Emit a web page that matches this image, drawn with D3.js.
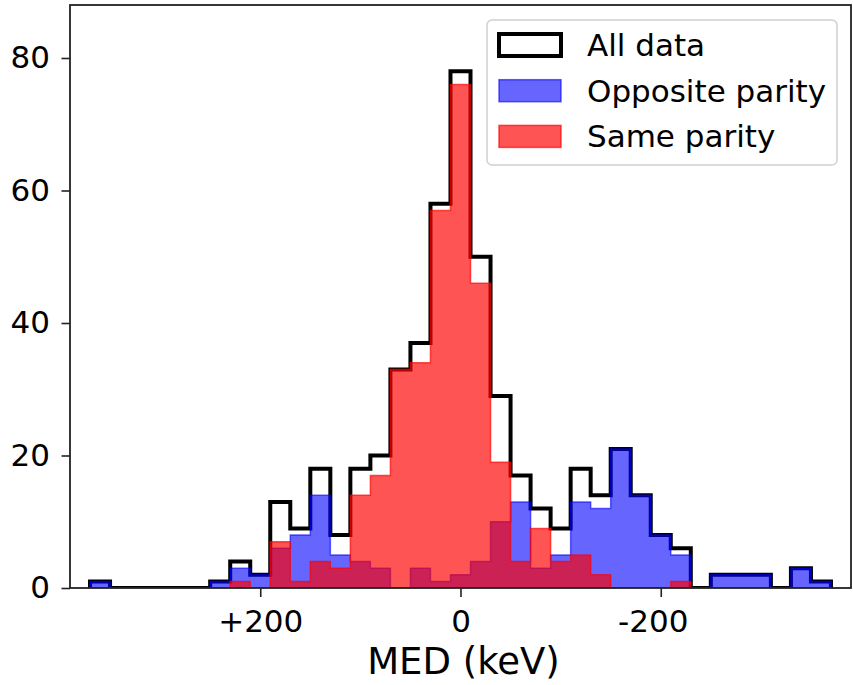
<!DOCTYPE html>
<html>
<head>
<meta charset="utf-8">
<script src="https://cdn.jsdelivr.net/npm/d3@7"></script>
<style>
  body { margin: 0; background: #fff; }
  text { font-family: "DejaVu Sans", sans-serif; }
</style>
</head>
<body>
<div id="chart"></div>
<script>
// bin centres in keV (bins are 20 keV wide)
const binCenters = [360, 340, 320, 300, 280, 260, 240, 220, 200, 180, 160, 140, 120, 100, 80, 60, 40, 20, 0,
  -20, -40, -60, -80, -100, -120, -140, -160, -180, -200, -220, -240, -260, -280, -300, -320, -340, -360];
const allCounts = [1, 0, 0, 0, 0, 0, 1, 4, 2, 13, 9, 18, 8, 18, 20, 33, 37, 58, 78,
  50, 29, 17, 12, 9, 18, 14, 21, 14, 8, 6, 0, 2, 2, 2, 0, 3, 1];
const oppositeCounts = [1, 0, 0, 0, 0, 0, 1, 3, 2, 6, 8, 14, 5, 4, 3, 0, 3, 1, 2,
  4, 10, 13, 3, 5, 13, 12, 21, 14, 8, 5, 0, 2, 2, 2, 0, 3, 1];
const sameCounts = [0, 0, 0, 0, 0, 0, 0, 1, 0, 7, 1, 4, 3, 14, 17, 33, 34, 57, 76,
  46, 19, 4, 9, 4, 5, 2, 0, 0, 0, 1, 0, 0, 0, 0, 0, 0, 0];
const binWidth = 20;

const xTicks = [200, 0, -200];
const xTickLabels = ["+200", "0", "-200"];
const yTicks = [0, 20, 40, 60, 80];

const legendItems = [
  { label: "All data", fill: "#fff", fillOpacity: 1, stroke: "#000", strokeOpacity: 1, sw: 4 },
  { label: "Opposite parity", fill: "blue", fillOpacity: 0.6, stroke: "blue", strokeOpacity: 0.6, sw: 1.5 },
  { label: "Same parity", fill: "red", fillOpacity: 0.67, stroke: "red", strokeOpacity: 0.67, sw: 1.5 }
];

const W = 853, H = 685;
const plot = { left: 70, right: 851, top: 5, bottom: 588 };

const svg = d3.select("#chart").append("svg")
  .attr("width", W).attr("height", H);

svg.append("rect").attr("width", W).attr("height", H).attr("fill", "#fff");

const x = d3.scaleLinear().domain([390, -390]).range([plot.left, plot.right]);
const y = d3.scaleLinear().domain([0, 88]).range([plot.bottom, plot.top]);

svg.append("clipPath").attr("id", "clip")
  .append("rect")
  .attr("x", plot.left).attr("y", plot.top)
  .attr("width", plot.right - plot.left).attr("height", plot.bottom - plot.top);

// step outline of a histogram
function stepPath(counts) {
  const pts = [[binCenters[0] + binWidth / 2, 0]];
  counts.forEach((c, i) => {
    pts.push([binCenters[i] + binWidth / 2, c]);
    pts.push([binCenters[i] - binWidth / 2, c]);
  });
  pts.push([binCenters[binCenters.length - 1] - binWidth / 2, 0]);
  return d3.line().x(d => x(d[0])).y(d => y(d[1]))(pts);
}

const g = svg.append("g").attr("clip-path", "url(#clip)");

// all data (step)
g.append("path")
  .attr("d", stepPath(allCounts))
  .attr("fill", "none")
  .attr("stroke", "#000")
  .attr("stroke-width", 4)
  .attr("stroke-linejoin", "miter");

// opposite parity (stepfilled)
g.append("path")
  .attr("d", stepPath(oppositeCounts) + "Z")
  .attr("fill", "blue").attr("fill-opacity", 0.6)
  .attr("stroke", "blue").attr("stroke-opacity", 0.6)
  .attr("stroke-width", 1.5);

// same parity (stepfilled)
g.append("path")
  .attr("d", stepPath(sameCounts) + "Z")
  .attr("fill", "red").attr("fill-opacity", 0.67)
  .attr("stroke", "red").attr("stroke-opacity", 0.67)
  .attr("stroke-width", 1.5);

// axes
const xAxis = svg.append("g")
  .attr("transform", `translate(0, ${plot.bottom})`)
  .call(d3.axisBottom(x).tickValues(xTicks)
    .tickFormat((d, i) => xTickLabels[i])
    .tickSize(9).tickPadding(12.5));
xAxis.select(".domain").remove();
xAxis.selectAll("line").attr("stroke", "#222").attr("stroke-width", 1.6);
xAxis.selectAll("text").style("font-size", "31px").attr("fill", "#000")
  .attr("dx", (d) => d === -200 ? -8 : 0);

const yAxis = svg.append("g")
  .attr("transform", `translate(${plot.left}, 0)`)
  .call(d3.axisLeft(y).tickValues(yTicks).tickSize(8.5).tickPadding(11.5));
yAxis.select(".domain").remove();
yAxis.selectAll("line").attr("stroke", "#222").attr("stroke-width", 1.6);
yAxis.selectAll("text").style("font-size", "31px").attr("fill", "#000");

// frame
svg.append("rect")
  .attr("x", plot.left).attr("y", plot.top)
  .attr("width", plot.right - plot.left).attr("height", plot.bottom - plot.top)
  .attr("fill", "none").attr("stroke", "#222").attr("stroke-width", 1.8);

// x label
svg.append("text")
  .attr("x", (plot.left + plot.right) / 2 + 3)
  .attr("y", 674)
  .attr("text-anchor", "middle")
  .style("font-size", "37px")
  .text("MED (keV)");

// legend
const legend = svg.append("g");
legend.append("rect")
  .attr("x", 487).attr("y", 20).attr("width", 350).attr("height", 145)
  .attr("rx", 5)
  .attr("fill", "#fff").attr("fill-opacity", 0.8)
  .attr("stroke", "#d0d0d0").attr("stroke-width", 1.5);

const rows = legend.selectAll(".legend-row")
  .data(legendItems)
  .enter().append("g")
  .attr("class", "legend-row")
  .attr("transform", (d, i) => `translate(0, ${i * 45.7})`);

rows.append("rect")
  .attr("x", 499).attr("y", 34).attr("width", 62).attr("height", 22)
  .attr("fill", d => d.fill).attr("fill-opacity", d => d.fillOpacity)
  .attr("stroke", d => d.stroke).attr("stroke-opacity", d => d.strokeOpacity)
  .attr("stroke-width", d => d.sw);

rows.append("text")
  .attr("x", 587).attr("y", 56)
  .style("font-size", "31px")
  .text(d => d.label);
</script>
</body>
</html>
